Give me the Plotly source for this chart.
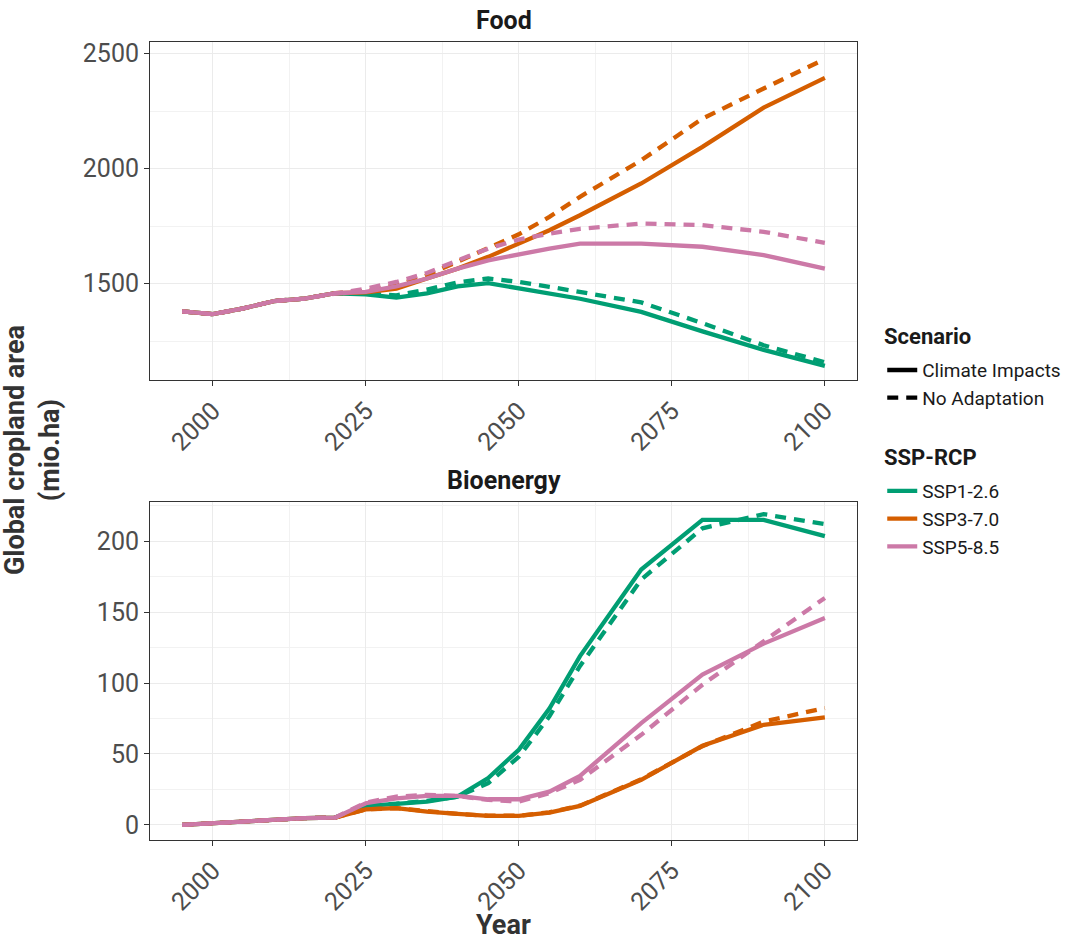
import plotly.graph_objects as go

# Model time steps (5-year until 2060, 10-year afterwards)
years = [1995, 2000, 2005, 2010, 2015, 2020, 2025, 2030, 2035, 2040, 2045,
         2050, 2055, 2060, 2070, 2080, 2090, 2100]

# Global cropland area for food production (mio. ha)
food_hist = [1379, 1367, 1392, 1424, 1435, 1458]
food_ssp1_ci = food_hist + [1453, 1439, 1457, 1488, 1502, 1478, 1456, 1434, 1377, 1292, 1212, 1142]
food_ssp1_na = food_hist + [1456, 1449, 1474, 1505, 1522, 1507, 1486, 1464, 1418, 1328, 1232, 1158]
food_ssp3_ci = food_hist + [1462, 1478, 1522, 1565, 1616, 1674, 1732, 1797, 1935, 2094, 2265, 2394]
food_ssp3_na = food_hist + [1468, 1493, 1536, 1594, 1652, 1714, 1790, 1877, 2036, 2217, 2348, 2476]
food_ssp5_ci = food_hist + [1464, 1488, 1522, 1565, 1601, 1628, 1652, 1674, 1674, 1660, 1624, 1565]
food_ssp5_na = food_hist + [1478, 1507, 1546, 1601, 1652, 1691, 1717, 1738, 1761, 1754, 1725, 1677]

# Global cropland area for bioenergy production (mio. ha)
bio_hist = [0, 1.2, 2.4, 4.2, 4.8, 5.2]
bio_ssp1_ci = bio_hist + [13.5, 14.8, 16.5, 20, 33, 53, 82, 119, 180, 215, 215, 203.5]
bio_ssp1_na = bio_hist + [13.5, 15, 17, 20, 29.5, 48, 76.5, 112, 173, 209, 219, 212]
bio_ssp3_ci = bio_hist + [11, 11.8, 9.4, 7.8, 6.4, 6.4, 8.7, 13.4, 31.8, 55.8, 70.6, 75.8]
bio_ssp3_na = bio_hist + [11, 11.8, 9.6, 7.8, 6.5, 6.5, 8.9, 13.6, 32.2, 55.5, 72.8, 82.4]
bio_ssp5_ci = bio_hist + [15.3, 18.8, 20.5, 20.5, 18.1, 18.1, 23.5, 34.6, 71.8, 105.9, 127.8, 145.9]
bio_ssp5_na = bio_hist + [15.8, 20, 21.2, 20.5, 17.6, 16.5, 22.4, 31.8, 63.5, 98.8, 129.4, 160]

ssp_names = ["SSP1-2.6", "SSP3-7.0", "SSP5-8.5"]
scenario_names = ["Climate Impacts", "No Adaptation"]
x_ticks = [2000, 2025, 2050, 2075, 2100]
food_ticks = [1500, 2000, 2500]
bio_ticks = [0, 50, 100, 150, 200]

colors = {"SSP1-2.6": "#009E73", "SSP3-7.0": "#D55E00", "SSP5-8.5": "#CC79A7"}
dashes = {"Climate Impacts": "solid", "No Adaptation": "11px,8px"}
LW = 4.3

panels = [
    ("x", "y", {
        "SSP1-2.6": (food_ssp1_ci, food_ssp1_na),
        "SSP3-7.0": (food_ssp3_ci, food_ssp3_na),
        "SSP5-8.5": (food_ssp5_ci, food_ssp5_na),
    }),
    ("x2", "y2", {
        "SSP1-2.6": (bio_ssp1_ci, bio_ssp1_na),
        "SSP3-7.0": (bio_ssp3_ci, bio_ssp3_na),
        "SSP5-8.5": (bio_ssp5_ci, bio_ssp5_na),
    }),
]

fig = go.Figure()
for xa, ya, series in panels:
    for ssp in ssp_names:
        for scen, vals in zip(scenario_names, series[ssp]):
            fig.add_trace(go.Scatter(
                x=years, y=vals, mode="lines", xaxis=xa, yaxis=ya,
                line=dict(color=colors[ssp], width=LW, dash=dashes[scen]),
                showlegend=False, hoverinfo="x+y", name=f"{ssp} {scen}",
            ))

# Legend entries
for scen in scenario_names:
    fig.add_trace(go.Scatter(
        x=[None], y=[None], mode="lines", name=scen, legend="legend",
        line=dict(color="black", width=LW, dash=dashes[scen]),
    ))
for ssp in ssp_names:
    fig.add_trace(go.Scatter(
        x=[None], y=[None], mode="lines", name=ssp, legend="legend2",
        line=dict(color=colors[ssp], width=LW),
    ))

TICKFONT = dict(family="Roboto", size=25, color="#4d4d4d")
GRID = "#ebebeb"
MINOR_GRID = "#f2f2f2"


def xaxis_style(anchor):
    return dict(
        anchor=anchor, domain=[0, 1], range=[1989.75, 2105.25],
        tickmode="array", tickvals=x_ticks, tickangle=-45, tickfont=TICKFONT,
        ticks="outside", ticklen=5, tickwidth=1, tickcolor="#333333",
        showline=True, linecolor="#333333", linewidth=1, mirror=True,
        showgrid=True, gridcolor=GRID, gridwidth=1.2, zeroline=False,
        minor=dict(tick0=1987.5, dtick=25, showgrid=True, gridcolor=MINOR_GRID, gridwidth=1),
    )


def yaxis_style(anchor, domain, rng, ticks, minor0, minordt):
    return dict(
        anchor=anchor, domain=domain, range=rng,
        tickmode="array", tickvals=ticks, tickfont=TICKFONT,
        ticks="outside", ticklen=5, tickwidth=1, tickcolor="#333333",
        showline=True, linecolor="#333333", linewidth=1, mirror=True,
        showgrid=True, gridcolor=GRID, gridwidth=1.2, zeroline=False,
        minor=dict(tick0=minor0, dtick=minordt, showgrid=True, gridcolor=MINOR_GRID, gridwidth=1),
    )


LEGEND_FONT = dict(family="Roboto", size=19, color="#1a1a1a")
LEGEND_TITLE_FONT = dict(family="Roboto", size=22, color="#1a1a1a")

fig.update_layout(
    width=1081, height=940,
    margin=dict(l=150, r=224, t=42, b=100),
    paper_bgcolor="white", plot_bgcolor="white",
    font=dict(family="Roboto", color="#333333"),
    xaxis=xaxis_style("y"),
    yaxis=yaxis_style("x", [0.5762, 1], [1080, 2550], food_ticks, 1250, 500),
    xaxis2=xaxis_style("y2"),
    yaxis2=yaxis_style("x2", [0, 0.4238], [-10.6, 227.7], bio_ticks, 25, 50),
    legend=dict(
        font=LEGEND_FONT, x=1.0357, y=0.6126, xanchor="left", yanchor="top",
        bgcolor="rgba(0,0,0,0)", itemwidth=30, tracegroupgap=0,
    ),
    legend2=dict(
        font=LEGEND_FONT, x=1.0357, y=0.4610, xanchor="left", yanchor="top",
        bgcolor="rgba(0,0,0,0)", itemwidth=30, tracegroupgap=0,
    ),
    annotations=[
        dict(text="<b>Food</b>", x=0.5, y=1, xref="paper", yref="paper",
             yshift=22, showarrow=False, yanchor="middle",
             font=dict(family="Roboto", size=25, color="#1a1a1a")),
        dict(text="<b>Bioenergy</b>", x=0.5, y=0.4238, xref="paper", yref="paper",
             yshift=21, showarrow=False, yanchor="middle",
             font=dict(family="Roboto", size=25, color="#1a1a1a")),
        dict(text="<b>Year</b>", x=0.5, y=-0.107, xref="paper", yref="paper",
             showarrow=False, yanchor="middle",
             font=dict(family="Roboto", size=27, color="#333333")),
        dict(text="<b>Global cropland area<br>(mio.ha)</b>", x=-0.167, y=0.4885,
             xref="paper", yref="paper", showarrow=False, textangle=-90,
             xanchor="center", yanchor="middle",
             font=dict(family="Roboto", size=27, color="#333333")),
        # legend headings
        dict(text="<b>Scenario</b>", x=1.0354, y=0.6313, xref="paper", yref="paper",
             showarrow=False, xanchor="left", yanchor="middle", font=LEGEND_TITLE_FONT),
        dict(text="<b>SSP-RCP</b>", x=1.0354, y=0.4798, xref="paper", yref="paper",
             showarrow=False, xanchor="left", yanchor="middle", font=LEGEND_TITLE_FONT),
    ],
)

fig.write_html("out.html")
